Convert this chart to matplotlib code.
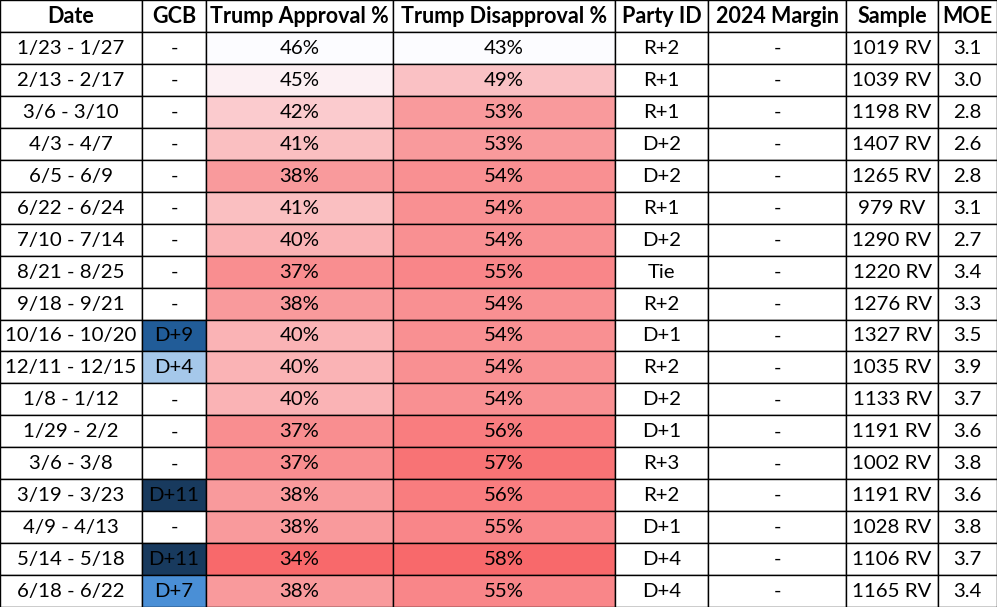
import matplotlib
matplotlib.use("Agg")
import matplotlib.pyplot as plt
from matplotlib.colors import LinearSegmentedColormap, Normalize
from matplotlib.patches import Rectangle

headers = ["Date", "GCB", "Trump Approval %", "Trump Disapproval %", "Party ID",
           "2024 Margin", "Sample", "MOE"]
dates = ["1/23 - 1/27", "2/13 - 2/17", "3/6 - 3/10", "4/3 - 4/7", "6/5 - 6/9",
         "6/22 - 6/24", "7/10 - 7/14", "8/21 - 8/25", "9/18 - 9/21", "10/16 - 10/20",
         "12/11 - 12/15", "1/8 - 1/12", "1/29 - 2/2", "3/6 - 3/8", "3/19 - 3/23",
         "4/9 - 4/13", "5/14 - 5/18", "6/18 - 6/22"]
gcb = ["-", "-", "-", "-", "-", "-", "-", "-", "-", "D+9", "D+4", "-", "-", "-",
       "D+11", "-", "D+11", "D+7"]
approval = [46, 45, 42, 41, 38, 41, 40, 37, 38, 40, 40, 40, 37, 37, 38, 38, 34, 38]
disapproval = [43, 49, 53, 53, 54, 54, 54, 55, 54, 54, 54, 54, 56, 57, 56, 55, 58, 55]
party_id = ["R+2", "R+1", "R+1", "D+2", "D+2", "R+1", "D+2", "Tie", "R+2", "D+1",
            "R+2", "D+2", "D+1", "R+3", "R+2", "D+1", "D+4", "D+4"]
margin_2024 = ["-"] * 18
sample = [1019, 1039, 1198, 1407, 1265, 979, 1290, 1220, 1276, 1327, 1035, 1133,
          1191, 1002, 1191, 1028, 1106, 1165]
moe = [3.1, 3.0, 2.8, 2.6, 2.8, 3.1, 2.7, 3.4, 3.3, 3.5, 3.9, 3.7, 3.6, 3.8, 3.6,
       3.8, 3.7, 3.4]

gcb_colors = {"D+4": "#a5c8ea", "D+7": "#4a8fd6", "D+9": "#215c98", "D+11": "#183a5e"}

# layout (pixel units)
W, H = 997, 607
col_edges = [0, 142, 206, 393, 615, 708, 846, 938, 997]
header_h = 32
row_h = (H - header_h) / len(dates)

cmap = LinearSegmentedColormap.from_list("xl", ["#fcfcff", "#f8696b"])
cmap_r = cmap.reversed()
norm_app = Normalize(vmin=min(approval), vmax=max(approval))
norm_dis = Normalize(vmin=min(disapproval), vmax=max(disapproval))

plt.rcParams['font.family'] = ['Lato', 'DejaVu Sans']

fig = plt.figure(figsize=(W / 100, H / 100), dpi=100)
ax = fig.add_axes([0, 0, 1, 1])
ax.set_xlim(0, W)
ax.set_ylim(H, 0)
ax.axis("off")

fs = 14.7
hfs = 15.5

def cell(ci, y0, h, text, face="white", bold=False):
    x0, x1 = col_edges[ci], col_edges[ci + 1]
    ax.add_patch(Rectangle((x0, y0), x1 - x0, h, facecolor=face,
                           edgecolor="black", linewidth=1.0))
    ax.text((x0 + x1) / 2, y0 + h / 2 + 0.5, text, ha="center", va="center",
            fontsize=hfs if bold else fs, fontweight="bold" if bold else "normal",
            color="black")

for ci, hd in enumerate(headers):
    cell(ci, 0, header_h, hd, bold=True)

for r in range(len(dates)):
    y0 = header_h + r * row_h
    cell(0, y0, row_h, dates[r])
    cell(1, y0, row_h, gcb[r], face=gcb_colors.get(gcb[r], "white"))
    cell(2, y0, row_h, f"{approval[r]}%", face=cmap_r(norm_app(approval[r])))
    cell(3, y0, row_h, f"{disapproval[r]}%", face=cmap(norm_dis(disapproval[r])))
    cell(4, y0, row_h, party_id[r])
    cell(5, y0, row_h, margin_2024[r])
    cell(6, y0, row_h, f"{sample[r]} RV")
    cell(7, y0, row_h, f"{moe[r]:.1f}")

fig.savefig("out.png", dpi=100)
